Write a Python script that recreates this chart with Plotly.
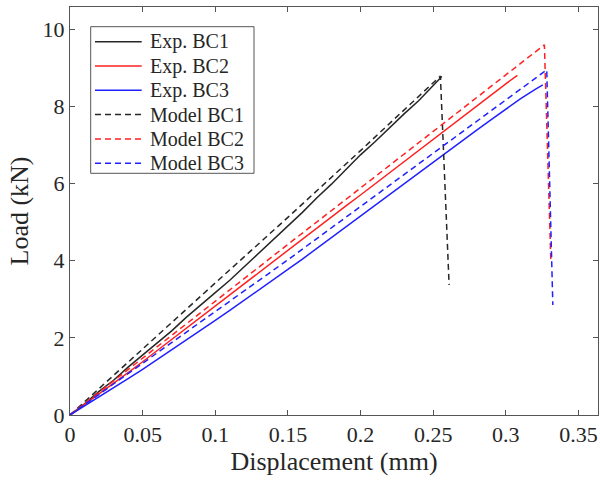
import plotly.graph_objects as go

# Experimental curves (displacement mm, load kN)
exp_bc1_x = [0, 0.01, 0.02, 0.03, 0.04, 0.05, 0.06, 0.07, 0.08, 0.09, 0.10, 0.11, 0.12, 0.13,
             0.14, 0.15, 0.16, 0.17, 0.18, 0.19, 0.20, 0.21, 0.22, 0.23, 0.24, 0.25, 0.256]
exp_bc1_y = [0, 0.29, 0.61, 0.90, 1.24, 1.55, 1.87, 2.18, 2.53, 2.84, 3.17, 3.49, 3.84, 4.18,
             4.55, 4.90, 5.25, 5.63, 5.98, 6.36, 6.74, 7.08, 7.45, 7.80, 8.14, 8.52, 8.77]

exp_bc2_x = [0, 0.01, 0.02, 0.03, 0.04, 0.05, 0.06, 0.07, 0.08, 0.09, 0.10, 0.11, 0.12, 0.13,
             0.14, 0.15, 0.16, 0.17, 0.18, 0.19, 0.20, 0.21, 0.22, 0.23, 0.24, 0.25, 0.26,
             0.27, 0.28, 0.29, 0.30, 0.308]
exp_bc2_y = [0, 0.27, 0.55, 0.83, 1.10, 1.38, 1.67, 1.95, 2.24, 2.52, 2.82, 3.10, 3.40, 3.68,
             3.98, 4.27, 4.55, 4.85, 5.13, 5.42, 5.70, 5.99, 6.28, 6.57, 6.86, 7.15, 7.44,
             7.72, 8.02, 8.30, 8.58, 8.80]

exp_bc3_x = [0, 0.01, 0.02, 0.03, 0.04, 0.05, 0.06, 0.07, 0.08, 0.09, 0.10, 0.11, 0.12, 0.13,
             0.14, 0.15, 0.16, 0.17, 0.18, 0.19, 0.20, 0.21, 0.22, 0.23, 0.24, 0.25, 0.26,
             0.27, 0.28, 0.29, 0.30, 0.31, 0.32, 0.3255]
exp_bc3_y = [0, 0.23, 0.46, 0.70, 0.94, 1.18, 1.43, 1.69, 1.94, 2.20, 2.45, 2.71, 2.97, 3.24,
             3.50, 3.77, 4.04, 4.32, 4.59, 4.87, 5.15, 5.43, 5.71, 5.99, 6.27, 6.55, 6.83,
             7.10, 7.38, 7.65, 7.93, 8.19, 8.43, 8.55]

# Model curves (with failure drop)
mod_bc1_x = [0, 0.05, 0.10, 0.15, 0.20, 0.255, 0.261]
mod_bc1_y = [0, 1.72, 3.42, 5.12, 6.85, 8.78, 3.37]

mod_bc2_x = [0, 0.05, 0.10, 0.15, 0.20, 0.25, 0.30, 0.3266, 0.331]
mod_bc2_y = [0, 1.48, 2.95, 4.42, 5.88, 7.35, 8.80, 9.59, 4.02]

mod_bc3_x = [0, 0.05, 0.10, 0.15, 0.20, 0.25, 0.30, 0.3282, 0.3324]
mod_bc3_y = [0, 1.33, 2.68, 4.02, 5.40, 6.78, 8.17, 8.94, 2.85]

series_names = ["Exp. BC1", "Exp. BC2", "Exp. BC3", "Model BC1", "Model BC2", "Model BC3"]

x_ticks = [0, 0.05, 0.1, 0.15, 0.2, 0.25, 0.3, 0.35]
x_tick_labels = ["0", "0.05", "0.1", "0.15", "0.2", "0.25", "0.3", "0.35"]
y_ticks = [0, 2, 4, 6, 8, 10]

BLACK = "#262626"
RED = "#ff2020"
BLUE = "#2020ff"
DASH = "6px,4px"

data = [
    (exp_bc1_x, exp_bc1_y, BLACK, "solid"),
    (exp_bc2_x, exp_bc2_y, RED, "solid"),
    (exp_bc3_x, exp_bc3_y, BLUE, "solid"),
    (mod_bc1_x, mod_bc1_y, BLACK, DASH),
    (mod_bc2_x, mod_bc2_y, RED, DASH),
    (mod_bc3_x, mod_bc3_y, BLUE, DASH),
]

fig = go.Figure()
for name, (xs, ys, col, dash) in zip(series_names, data):
    fig.add_trace(go.Scatter(x=xs, y=ys, mode="lines", name=name, showlegend=False,
                             line=dict(color=col, width=1.5, dash=dash)))

FONT = "Liberation Serif, Times New Roman, serif"
AX = "#555555"

# Legend box drawn in plot-area (paper) coordinates, MATLAB style
L, T, B = 70, 7, 415
W, H = 528, 408
def px(xp):
    return (xp - L) / W
def py(yp):
    return (B - yp) / H

shapes = [dict(type="rect", xref="paper", yref="paper",
               x0=px(90.7), x1=px(254), y0=py(173.3), y1=py(26.7),
               line=dict(color=AX, width=1), fillcolor="white", layer="above")]
annotations = []
for i, (name, (xs, ys, col, dash)) in enumerate(zip(series_names, data)):
    yrow = 41.7 + 24.3 * i
    shapes.append(dict(type="line", xref="paper", yref="paper",
                       x0=px(95), x1=px(141.7), y0=py(yrow), y1=py(yrow),
                       line=dict(color=col, width=1.5, dash=dash), layer="above"))
    annotations.append(dict(xref="paper", yref="paper", x=px(148), y=py(yrow),
                            xanchor="left", yanchor="middle", showarrow=False,
                            text=name, font=dict(family=FONT, size=20, color=BLACK)))

fig.update_layout(
    width=600, height=482,
    margin=dict(l=L, r=2, t=T, b=67),
    paper_bgcolor="white", plot_bgcolor="white",
    font=dict(family=FONT, color=BLACK, size=22),
    showlegend=False,
    shapes=shapes,
    annotations=annotations,
    xaxis=dict(range=[0, 0.3635], tickvals=x_ticks, ticktext=x_tick_labels,
               ticks="inside", ticklen=5, tickcolor=AX, showline=True, linecolor=AX,
               linewidth=1, mirror="ticks", showgrid=False, zeroline=False,
               tickfont=dict(size=22, family=FONT, color=BLACK),
               title=dict(text="Displacement (mm)", font=dict(size=26, family=FONT, color=BLACK),
                          standoff=4)),
    yaxis=dict(range=[0, 10.57], tickvals=y_ticks,
               ticks="inside", ticklen=5, tickcolor=AX, showline=True, linecolor=AX,
               linewidth=1, mirror="ticks", showgrid=False, zeroline=False,
               tickfont=dict(size=22, family=FONT, color=BLACK),
               title=dict(text="Load (kN)", font=dict(size=26, family=FONT, color=BLACK),
                          standoff=6)),
)

fig.write_html("out.html")
